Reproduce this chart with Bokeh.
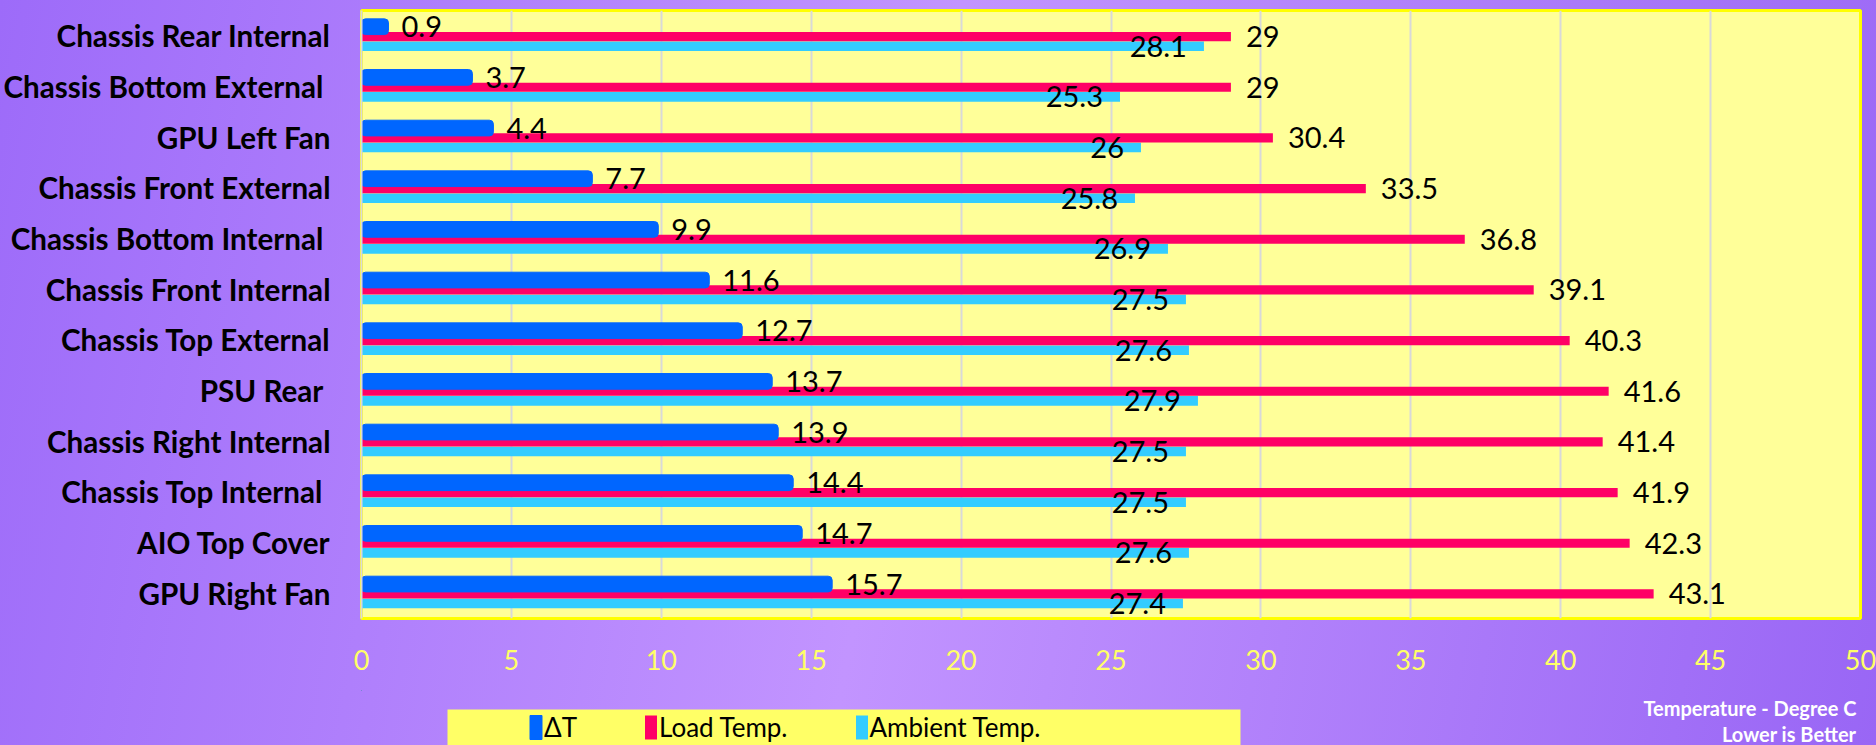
from bokeh.plotting import figure
from bokeh.layouts import column
from bokeh.models import (ColumnDataSource, FactorRange, Range1d, Legend, LegendItem,
                          BoxAnnotation, Label, FixedTicker)
from bokeh.transform import dodge
from bokeh.core.properties import value
from bokeh.embed import file_html
from bokeh.resources import INLINE

# ---- data (top to bottom as shown) ----
categories = [
    "Chassis Rear Internal",
    "Chassis Bottom External ",
    "GPU Left Fan",
    "Chassis Front External",
    "Chassis Bottom Internal ",
    "Chassis Front Internal",
    "Chassis Top External",
    "PSU Rear ",
    "Chassis Right Internal",
    "Chassis Top Internal ",
    "AIO Top Cover",
    "GPU Right Fan",
]
delta_t = [0.9, 3.7, 4.4, 7.7, 9.9, 11.6, 12.7, 13.7, 13.9, 14.4, 14.7, 15.7]
load_temp = [29, 29, 30.4, 33.5, 36.8, 39.1, 40.3, 41.6, 41.4, 41.9, 42.3, 43.1]
ambient_temp = [28.1, 25.3, 26, 25.8, 26.9, 27.5, 27.6, 27.9, 27.5, 27.5, 27.6, 27.4]
x_ticks = [0, 5, 10, 15, 20, 25, 30, 35, 40, 45, 50]
series_names = ["ΔT", "Load Temp.", "Ambient Temp."]
note_lines = ["Temperature - Degree C", "Lower is Better"]

BLUE, RED, CYAN = "#0066FF", "#FF0066", "#33CCFF"
FONT = "Lato"

src = ColumnDataSource(dict(
    cat=categories,
    dt=delta_t, load=load_temp, amb=ambient_temp,
    dt_lbl=[f"{v:g}" for v in delta_t],
    load_lbl=[f"{v:g}" for v in load_temp],
    amb_lbl=[f"{v:g}" for v in ambient_temp],
))

W = 1876
FL, FR = 361, 16   # frame borders (left / right) in px

p = figure(width=W, height=690,
           y_range=FactorRange(factors=categories[::-1]),
           x_range=Range1d(0, 50),
           output_backend="svg", toolbar_location=None,
           min_border_left=FL, min_border_right=FR,
           min_border_top=10, min_border_bottom=72)

p.background_fill_color = "#FFFF99"
p.border_fill_color = None
p.outline_line_color = "#FFFF00"
p.outline_line_width = 3

off_b, off_r, off_c = 0.18, -0.015, -0.205

r_c = p.hbar(y=dodge("cat", off_c, range=p.y_range), left=0, right="amb", height=0.19,
             source=src, fill_color=CYAN, line_color=None)
r_r = p.hbar(y=dodge("cat", off_r, range=p.y_range), left=0, right="load", height=0.18,
             source=src, fill_color=RED, line_color=None)
r_b = p.hbar(y=dodge("cat", off_b, range=p.y_range), left=0, right="dt", height=0.31,
             source=src, fill_color=BLUE, line_color=BLUE, border_radius=4)

common = dict(source=src, text_baseline="middle", text_font=value(FONT),
              text_font_size="29px", text_color="black")
p.text(x="dt", y=dodge("cat", off_b, range=p.y_range), text="dt_lbl",
       x_offset=13, text_align="left", **common)
p.text(x="load", y=dodge("cat", off_r, range=p.y_range), text="load_lbl",
       x_offset=15, text_align="left", **common)
p.text(x="amb", y=dodge("cat", off_c, range=p.y_range), text="amb_lbl",
       x_offset=-17, text_align="right", **common)

# axes
p.xaxis.ticker = FixedTicker(ticks=x_ticks)
p.xaxis.axis_line_color = None
p.xaxis.major_tick_line_color = None
p.xaxis.minor_tick_line_color = None
p.xaxis.major_label_text_color = "#FFFF66"
p.xaxis.major_label_text_font = FONT
p.xaxis.major_label_text_font_size = "27px"
p.xaxis.major_label_standoff = 25

p.yaxis.axis_line_color = "#D9D9D9"
p.yaxis.axis_line_width = 2
p.yaxis.major_tick_line_color = None
p.yaxis.minor_tick_line_color = None
p.yaxis.major_label_text_font = FONT
p.yaxis.major_label_text_font_style = "bold"
p.yaxis.major_label_text_font_size = "29.6px"
p.yaxis.major_label_text_color = "black"
p.yaxis.major_label_standoff = 25

p.ygrid.grid_line_color = None
p.xgrid.grid_line_color = "#D9D9D9"
p.xgrid.grid_line_width = 2

# ---- footer strip: legend box + notes (x range mapped to page pixels) ----
H2 = 55
p2 = figure(width=W, height=H2, x_range=Range1d(FL, W - FR), y_range=Range1d(H2, 0),
            x_axis_type=None, y_axis_type=None,
            output_backend="svg", toolbar_location=None,
            min_border_left=FL, min_border_right=FR, min_border_top=0, min_border_bottom=0)
p2.background_fill_color = None
p2.border_fill_color = None
p2.outline_line_color = None
p2.grid.grid_line_color = None

p2.add_layout(BoxAnnotation(left=447, right=1240, top=19, bottom=H2 + 5,
                            fill_color="#FFFF66", fill_alpha=1, line_color=None))

# legend proxies: the real series, parked outside the visible strip
proxy = dict(y=value(-1000), left=0, height=1, source=src)
lb = p2.hbar(right="dt", fill_color=BLUE, line_color=BLUE, border_radius=3, **proxy)
lr = p2.hbar(right="load", fill_color=RED, line_color=None, **proxy)
lc = p2.hbar(right="amb", fill_color=CYAN, line_color=None, **proxy)

legend = Legend(items=[LegendItem(label=series_names[0], renderers=[lb]),
                       LegendItem(label=series_names[1], renderers=[lr]),
                       LegendItem(label=series_names[2], renderers=[lc])],
                orientation="horizontal", location=(528 - FL, 2),
                background_fill_alpha=0, border_line_color=None,
                glyph_width=15, glyph_height=30, label_standoff=1,
                spacing=66, padding=0, margin=0,
                label_text_font=FONT, label_text_font_size="26px",
                label_text_color="black")
p2.add_layout(legend)

for txt, yy in zip(note_lines, [17, 43]):
    p2.add_layout(Label(x=1856, y=yy, text=txt,
                        text_align="right", text_baseline="middle", text_color="white",
                        text_font=FONT, text_font_style="bold", text_font_size="20px"))

layout = column(p, p2, spacing=0)
layout.styles = {"background": "linear-gradient(100deg, #9d6bf9 0%, #c294ff 48%, #9966f5 100%)"}

html = file_html(layout, INLINE)
html = html.replace("<body>", '<body style="background:#a06ef9">')
open("out.html", "w").write(html)
